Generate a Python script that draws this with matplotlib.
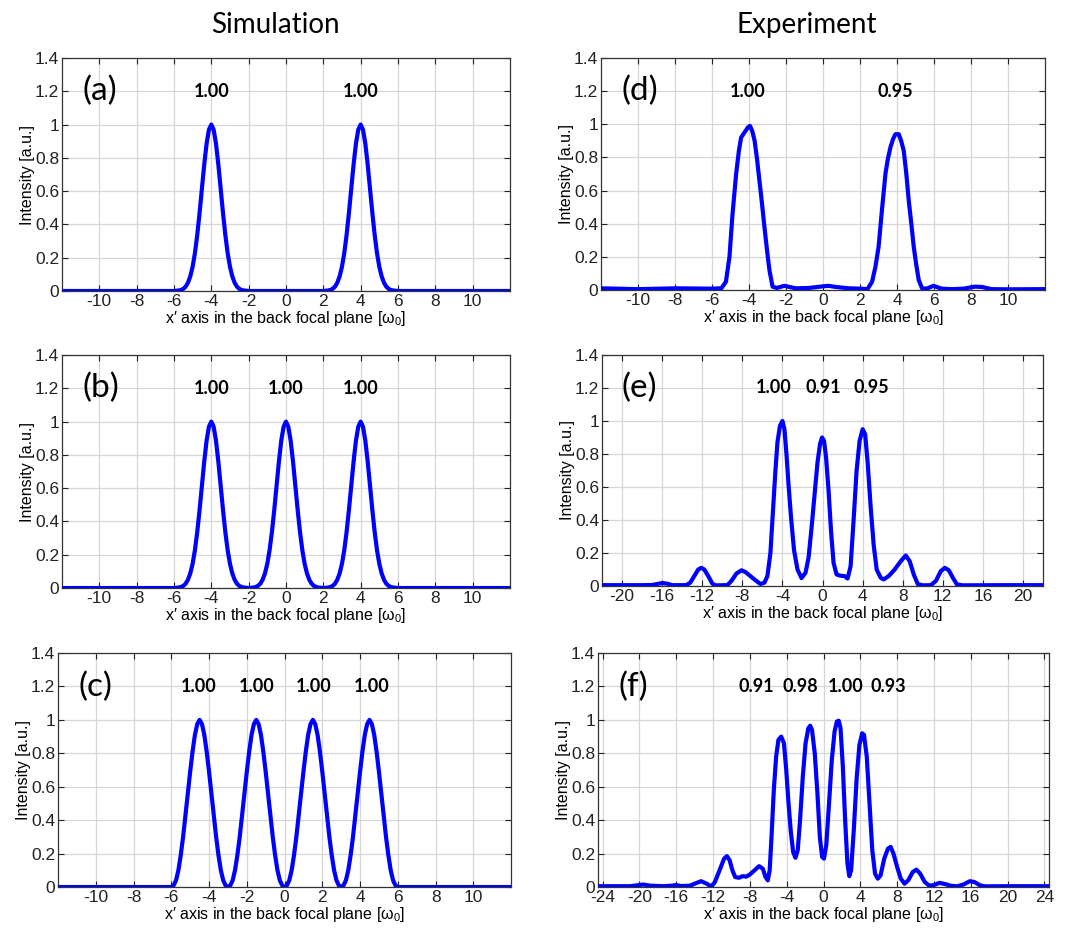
import numpy as np
import matplotlib.pyplot as plt

plt.rcParams['font.family'] = ['Liberation Sans', 'DejaVu Sans']
plt.rcParams['mathtext.fontset'] = 'custom'
plt.rcParams['mathtext.rm'] = 'Liberation Sans'
plt.rcParams['mathtext.it'] = 'Liberation Sans:italic'

# ---- simulation: one half of the peak shape (a)/(b)
gauss_dx = [0, 0.125, 0.25, 0.375, 0.5, 0.625, 0.75, 0.875, 1.0, 1.125, 1.25, 1.375, 1.5, 1.625, 1.75, 2.0]
gauss_y = [1.0, 0.97, 0.887, 0.763, 0.618, 0.472, 0.339, 0.229, 0.146, 0.088, 0.05, 0.026, 0.013, 0.006, 0.003, 0.0]
# panel (c): neighbouring lobes meet at zero
lobe_dx = [0, 0.125, 0.25, 0.375, 0.5, 0.625, 0.75, 0.875, 1.0, 1.125, 1.25, 1.375, 1.5]
lobe_y = [1.0, 0.975, 0.91, 0.81, 0.69, 0.56, 0.43, 0.3, 0.19, 0.1, 0.04, 0.01, 0.0]

centers_a = [-4, 4]
centers_b = [-4, 0, 4]
centers_c = [-4.5, -1.5, 1.5, 4.5]

# ---- experiment curves, read point by point
exp_d_x = [-12, -10, -8, -6, -5.5, -5.25, -5.06, -4.9, -4.7, -4.55, -4.43, -4.25, -4.07, -3.95, -3.83, -3.7,
           -3.57, -3.44, -3.3, -3.17, -3.03, -2.9, -2.73, -2.5, -2.1, -1.47, -0.8, 0.0, 0.3, 0.7, 1.4, 2.0,
           2.4, 2.65, 2.83, 3.0, 3.18, 3.37, 3.5, 3.64, 3.78, 3.91, 4.09, 4.22, 4.36, 4.5, 4.63, 4.77, 4.9,
           5.04, 5.17, 5.35, 5.6, 5.97, 6.4, 7.0, 7.6, 8.2, 8.6, 9.1, 10, 12]
exp_d_y = [0.01, 0.005, 0.01, 0.008, 0.01, 0.05, 0.2, 0.45, 0.7, 0.84, 0.92, 0.95, 0.98, 0.99, 0.96, 0.9,
           0.79, 0.66, 0.52, 0.38, 0.24, 0.12, 0.02, 0.012, 0.025, 0.01, 0.012, 0.022, 0.025, 0.018, 0.01, 0.008,
           0.005, 0.05, 0.14, 0.26, 0.48, 0.7, 0.79, 0.86, 0.91, 0.94, 0.94, 0.9, 0.84, 0.7, 0.54, 0.4, 0.26,
           0.15, 0.06, 0.01, 0.008, 0.025, 0.008, 0.005, 0.008, 0.02, 0.018, 0.005, 0.004, 0.005]

exp_e_x = [-22, -18, -17, -16.5, -16, -15.5, -15, -13.6, -13.2, -12.8, -12.4, -12.1, -11.8, -11.4, -11.0, -10.7,
           -9.5, -9.1, -8.6, -8.1, -7.7, -7.2, -6.7, -6.2, -5.8, -5.5, -5.2, -4.95, -4.7, -4.5, -4.25, -4.0,
           -3.8, -3.6, -3.4, -3.15, -2.85, -2.5, -2.1, -1.7, -1.4, -1.1, -0.8, -0.5, -0.25, -0.05, 0.15, 0.35,
           0.6, 0.85, 1.1, 1.4, 1.8, 2.2, 2.5, 2.8, 3.1, 3.4, 3.7, 4.0, 4.25, 4.5, 4.8, 5.1, 5.4, 5.8, 6.1,
           6.6, 7.2, 7.8, 8.3, 8.7, 9.1, 9.5, 10, 10.8, 11.3, 11.8, 12.2, 12.6, 13.0, 13.4, 14, 18, 22]
exp_e_y = [0.005, 0.005, 0.006, 0.012, 0.018, 0.014, 0.005, 0.005, 0.02, 0.06, 0.1, 0.11, 0.1, 0.06, 0.015, 0.004,
           0.005, 0.03, 0.075, 0.095, 0.085, 0.06, 0.035, 0.012, 0.02, 0.06, 0.2, 0.45, 0.7, 0.87, 0.97, 1.0,
           0.95, 0.8, 0.62, 0.42, 0.22, 0.1, 0.048, 0.08, 0.17, 0.35, 0.55, 0.75, 0.86, 0.9, 0.88, 0.78,
           0.58, 0.33, 0.14, 0.07, 0.062, 0.06, 0.045, 0.12, 0.4, 0.7, 0.88, 0.95, 0.92, 0.75, 0.48, 0.25, 0.1, 0.05, 0.04,
           0.06, 0.1, 0.15, 0.185, 0.15, 0.07, 0.012, 0.004, 0.005, 0.03, 0.09, 0.11, 0.095, 0.05, 0.01, 0.004, 0.005, 0.005]

exp_f_x = [-24.5, -21, -20.3, -19.6, -18.8, -17.5, -16.5, -16, -15.5, -14.5, -14, -13.3, -12.7, -12.2, -11.8, -11.3,
           -10.8, -10.5, -10.2, -9.9, -9.6, -9.2, -8.8, -8.4, -8.0, -7.5, -7.0, -6.6, -6.3, -6.05, -5.85, -5.65,
           -5.4, -5.15, -4.9, -4.6, -4.3, -4.05, -3.8, -3.55, -3.3, -3.05, -2.8, -2.55, -2.25, -1.95, -1.65, -1.45,
           -1.25, -0.95, -0.65, -0.4, -0.15, 0.05, 0.3, 0.6, 0.9, 1.2, 1.45, 1.65, 1.85, 2.1, 2.35, 2.6, 2.8, 3.0,
           3.3, 3.6, 3.9, 4.2, 4.4, 4.7, 5.0, 5.3, 5.6, 5.9, 6.2, 6.6, 7.0, 7.3, 7.6, 8.0, 8.4, 8.8, 9.2, 9.7,
           10.1, 10.5, 11.0, 11.5, 12.0, 12.6, 13.2, 13.8, 14.5, 15.2, 15.9, 16.4, 17.0, 17.6, 20, 24.5]
exp_f_y = [0.005, 0.005, 0.01, 0.015, 0.008, 0.005, 0.008, 0.012, 0.006, 0.008, 0.02, 0.035, 0.02, 0.003, 0.03, 0.1,
           0.17, 0.185, 0.16, 0.1, 0.06, 0.055, 0.065, 0.062, 0.075, 0.1, 0.125, 0.11, 0.06, 0.04, 0.1, 0.3,
           0.58, 0.78, 0.88, 0.9, 0.86, 0.7, 0.5, 0.33, 0.21, 0.175, 0.22, 0.4, 0.66, 0.86, 0.95, 0.965,
           0.94, 0.8, 0.55, 0.3, 0.18, 0.17, 0.25, 0.5, 0.76, 0.93, 0.99, 0.995, 0.95, 0.72, 0.4, 0.14, 0.065, 0.1,
           0.35, 0.65, 0.85, 0.92, 0.91, 0.78, 0.5, 0.22, 0.08, 0.05, 0.07, 0.17, 0.23, 0.24, 0.2, 0.12, 0.05, 0.02, 0.04, 0.09,
           0.104, 0.08, 0.03, 0.008, 0.012, 0.025, 0.018, 0.008, 0.004, 0.015, 0.035, 0.03, 0.01, 0.004, 0.005, 0.005]

# peak labels
lab_a, lab_a_x = ['1.00', '1.00'], [-4, 4]
lab_b, lab_b_x = ['1.00', '1.00', '1.00'], [-4, 0, 4]
lab_c, lab_c_x = ['1.00', '1.00', '1.00', '1.00'], [-4.55, -1.5, 1.55, 4.6]
lab_d, lab_d_x = ['1.00', '0.95'], [-4.1, 3.9]
lab_e, lab_e_x = ['1.00', '0.91', '0.95'], [-4.9, 0.1, 4.9]
lab_f, lab_f_x = ['0.91', '0.98', '1.00', '0.93'], [-7.3, -2.5, 2.4, 7.0]


def sim_curve(centers, dx, y, lo, hi):
    xs, ys = [lo], [0.0]
    for c in centers:
        xs += [c - d for d in dx[::-1]] + [c + d for d in dx[1:]]
        ys += list(y[::-1]) + list(y[1:])
    xs.append(hi)
    ys.append(0.0)
    return np.array(xs), np.array(ys)


xa, ya = sim_curve(centers_a, gauss_dx, gauss_y, -12, 12)
xb, yb = sim_curve(centers_b, gauss_dx, gauss_y, -12, 12)
xc, yc = sim_curve(centers_c, lobe_dx, lobe_y, -12, 12)

panels = [
    # name, rect, x, y, xlim, xticks, labels, label x
    ('(a)', [0.0572, 0.6871, 0.4137, 0.2505], xa, ya, (-12, 12), range(-10, 11, 2), lab_a, lab_a_x),
    ('(b)', [0.0572, 0.3677, 0.4137, 0.2505], xb, yb, (-12, 12), range(-10, 11, 2), lab_b, lab_b_x),
    ('(c)', [0.0536, 0.0462, 0.4183, 0.2516], xc, yc, (-12, 12), range(-10, 11, 2), lab_c, lab_c_x),
    ('(d)', [0.5550, 0.6882, 0.4100, 0.2495], exp_d_x, exp_d_y, (-12, 12), range(-10, 11, 2), lab_d, lab_d_x),
    ('(e)', [0.5559, 0.3699, 0.4072, 0.2484], exp_e_x, exp_e_y, (-22, 22), range(-20, 21, 4), lab_e, lab_e_x),
    ('(f)', [0.5522, 0.0462, 0.4164, 0.2516], exp_f_x, exp_f_y, (-24.5, 24.5), range(-24, 25, 4), lab_f, lab_f_x),
]

fig = plt.figure(figsize=(10.83, 9.3), dpi=100)

yt = [0, 0.2, 0.4, 0.6, 0.8, 1.0, 1.2, 1.4]
for name, rect, x, y, xlim, xticks, labs, labx in panels:
    ax = fig.add_axes(rect)
    ax.plot(x, y, color='#0000ff', lw=3.0, solid_joinstyle='round', solid_capstyle='round', zorder=3)
    ax.set_xlim(*xlim)
    ax.set_ylim(0, 1.4)
    ax.set_xticks(list(xticks))
    ax.set_xticklabels([f'{v:g}' for v in xticks])
    ax.set_yticks(yt)
    ax.set_yticklabels([f'{v:g}' for v in yt])
    ax.grid(True, color='#d6d6d6', lw=0.9)
    ax.set_axisbelow(True)
    ax.tick_params(direction='in', top=True, right=True, length=4, width=0.8,
                   labelsize=12.5, pad=2, colors='#222222')
    for s in ax.spines.values():
        s.set_color('#333333')
        s.set_linewidth(0.9)
    ax.set_xlabel('x\u2032 axis in the back focal plane [\u03c9$_0$]', fontsize=11.5, labelpad=0)
    ax.set_ylabel('Intensity [a.u.]', fontsize=11.5, labelpad=0)
    ax.text(0.045, 1.2 / 1.4, name, transform=ax.transAxes, fontsize=24,
            family='Lato', va='center', ha='left')
    for t, px in zip(labs, labx):
        ax.text(px, 1.2, t, fontsize=13, family='Lato', weight='bold', ha='center', va='center')

fig.text(0.254, 0.973, 'Simulation', fontsize=20, family='Lato', ha='center', va='center')
fig.text(0.745, 0.973, 'Experiment', fontsize=20, family='Lato', ha='center', va='center')

fig.savefig('out.png', dpi=100)
